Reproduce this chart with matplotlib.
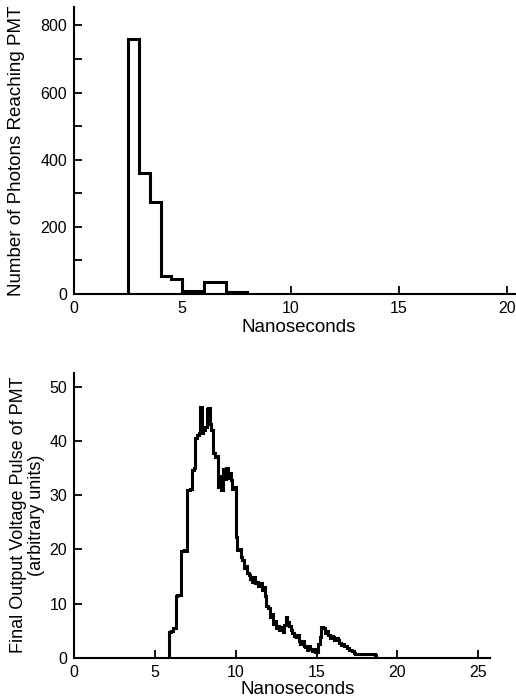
import numpy as np
import matplotlib.pyplot as plt

plt.rcParams['font.family'] = ['Liberation Sans', 'DejaVu Sans']

# top histogram: photons reaching the PMT (0.5 ns bins)
photon_start = 2.5
photon_width = 0.5
photon_counts = [760, 360, 275, 55, 45, 10, 10, 35, 35, 5, 5]

# bottom trace: output voltage pulse (0.1 ns bins)
pulse_start = 5.9
pulse_width = 0.1
pulse_values = [
    4.8, 5.0, 5.4, 5.4, 11.3, 11.5, 11.5, 19.6, 19.6, 19.8,
    19.6, 30.9, 31.0, 31.2, 34.6, 35.0, 40.5, 41.0, 41.5, 46.3,
    41.5, 42.0, 42.5, 45.8, 46.0, 43.2, 42.0, 37.7, 37.0, 37.2,
    31.5, 33.5, 31.0, 34.8, 33.0, 35.0, 33.2, 34.0, 32.7, 31.2,
    31.5, 22.3, 19.9, 20.0, 18.6, 18.0, 16.5, 17.0, 15.6, 15.2,
    14.5, 14.0, 14.8, 13.7, 14.0, 13.2, 13.7, 12.5, 13.1, 11.3,
    9.5, 9.2, 7.5, 8.0, 6.3, 6.8, 5.5, 5.8, 5.1, 5.6,
    4.8, 6.0, 7.6, 6.5, 5.8, 5.1, 4.6, 4.0, 3.8, 4.2,
    3.0, 2.6, 3.0, 2.2, 2.0, 1.5, 2.1, 1.7, 1.2, 1.7,
    1.1, 1.1, 2.5, 3.8, 5.7, 5.5, 4.5, 5.0, 4.2, 3.6,
    4.0, 3.9, 3.3, 3.6, 3.3, 2.7, 2.4, 2.6, 2.1, 2.1,
    1.8, 1.5, 1.5, 1.2, 0.9, 0.7, 0.7, 0.6, 0.7, 0.6,
    0.6, 0.7, 0.6, 0.6, 0.6, 0.6, 0.6, 0.5,
]

fig = plt.figure(figsize=(5.16, 7.0), dpi=100)

#%% bovenste grafiek
ax1 = fig.add_axes([0.1434, 0.58, 0.856, 0.41])
edges1 = photon_start + photon_width * np.arange(len(photon_counts) + 1)
ax1.stairs(photon_counts, edges1, baseline=0, color='black', linewidth=2.2)
ax1.set_xlim(0, 20.4)
ax1.set_ylim(0, 855)
ax1.set_xticks([0, 5, 10, 15, 20])
ax1.set_yticks([0, 200, 400, 600, 800])
ax1.set_yticks(np.arange(100, 800, 200), minor=True)
ax1.set_xlabel('Nanoseconds', fontsize=13.5)
ax1.xaxis.set_label_coords(0.508, -0.088)
ax1.set_ylabel('Number of Photons Reaching PMT', fontsize=13.5)
ax1.yaxis.set_label_coords(-0.112, 0.5)

#%% onderste grafiek
ax2 = fig.add_axes([0.1434, 0.0604, 0.807, 0.4073])
edges2 = pulse_start + pulse_width * np.arange(len(pulse_values) + 1)
ax2.stairs(pulse_values, edges2, baseline=0, color='black', linewidth=2.2)
ax2.set_xlim(0, 25.75)
ax2.set_ylim(0, 52.6)
ax2.set_xticks([0, 5, 10, 15, 20, 25])
ax2.set_yticks([0, 10, 20, 30, 40, 50])
ax2.set_xlabel('Nanoseconds', fontsize=13.5)
ax2.xaxis.set_label_coords(0.537, -0.08)
ax2.set_ylabel('Final Output Voltage Pulse of PMT\n(arbitrary units)',
               fontsize=13, linespacing=1.05)
ax2.yaxis.set_label_coords(-0.07, 0.5)

for ax in (ax1, ax2):
    ax.spines['top'].set_visible(False)
    ax.spines['right'].set_visible(False)
    ax.spines['left'].set_linewidth(1.5)
    ax.spines['bottom'].set_linewidth(1.5)
    ax.tick_params(which='both', direction='in', length=6, width=1.3,
                   labelsize=11.5, pad=5)

fig.savefig('out.png', dpi=100)
